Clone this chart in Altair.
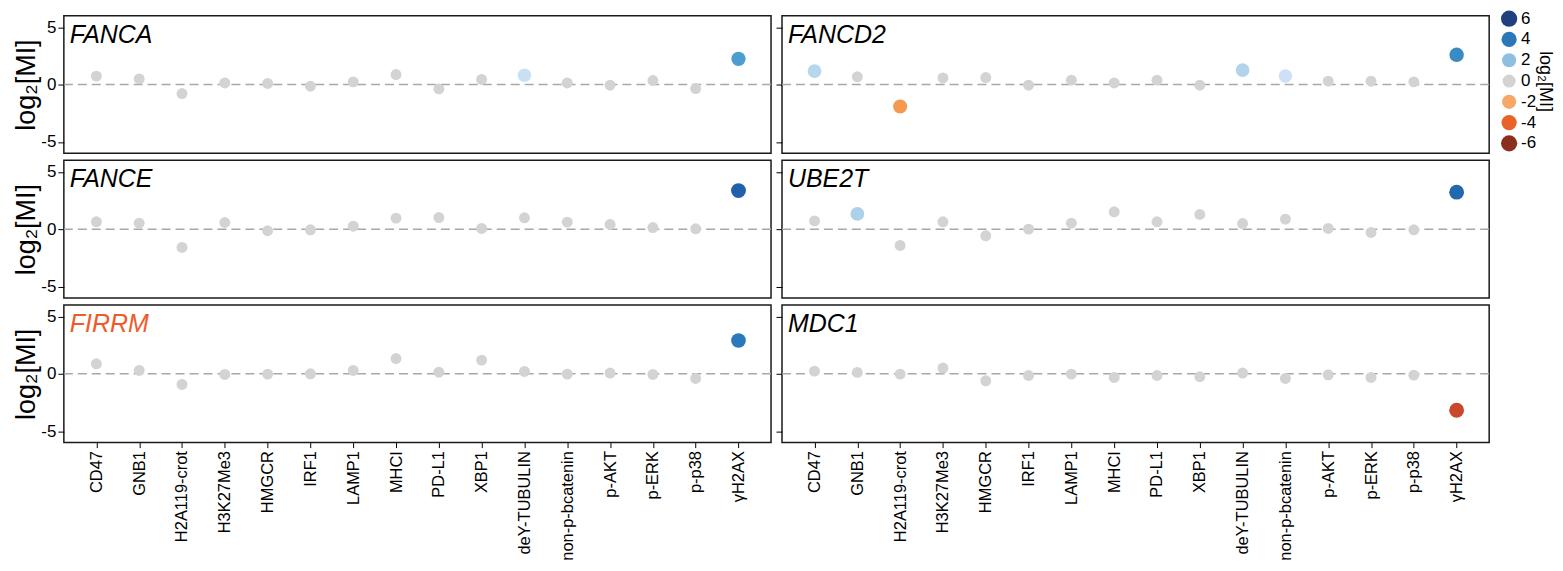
import altair as alt
import pandas as pd

markers = ["CD47", "GNB1", "H2A119-crot", "H3K27Me3", "HMGCR", "IRF1", "LAMP1",
           "MHCI", "PD-L1", "XBP1", "deY-TUBULIN", "non-p-bcatenin", "p-AKT",
           "p-ERK", "p-p38", "γH2AX"]

genes = ["FANCA", "FANCD2", "FANCE", "UBE2T", "FIRRM", "MDC1"]

fanca = [0.73, 0.49, -0.79, 0.14, 0.09, -0.15, 0.23, 0.87, -0.38, 0.44, 0.81, 0.14, -0.06, 0.35, -0.35, 2.24]
fancd2 = [1.16, 0.67, -1.92, 0.58, 0.61, -0.06, 0.38, 0.14, 0.38, -0.06, 1.25, 0.75, 0.29, 0.29, 0.23, 2.59]
fance = [0.64, 0.52, -1.59, 0.58, -0.14, -0.06, 0.26, 0.96, 1.01, 0.06, 0.99, 0.61, 0.41, 0.14, 0.03, 3.36]
ube2t = [0.72, 1.33, -1.42, 0.64, -0.58, 0.0, 0.52, 1.51, 0.64, 1.28, 0.49, 0.87, 0.06, -0.29, -0.06, 3.22]
firrm = [0.87, 0.29, -0.93, -0.06, -0.03, 0.0, 0.29, 1.33, 0.14, 1.19, 0.2, -0.03, 0.06, -0.06, -0.41, 2.9]
mdc1 = [0.23, 0.12, -0.03, 0.5, -0.61, -0.15, -0.03, -0.32, -0.15, -0.26, 0.06, -0.41, -0.09, -0.32, -0.12, -3.18]

sig_fanca = ["deY-TUBULIN", "γH2AX"]
sig_fancd2 = ["CD47", "H2A119-crot", "deY-TUBULIN", "non-p-bcatenin", "γH2AX"]
sig_fance = ["γH2AX"]
sig_ube2t = ["GNB1", "γH2AX"]
sig_firrm = ["γH2AX"]
sig_mdc1 = ["γH2AX"]

legend_vals = [6, 4, 2, 0, -2, -4, -6]
legend_labels = ["6", "4", "2", "0", "-2", "-4", "-6"]

values = [fanca, fancd2, fance, ube2t, firrm, mdc1]
sigs = [sig_fanca, sig_fancd2, sig_fance, sig_ube2t, sig_firrm, sig_mdc1]

FONT = "Liberation Sans"
W, H = 709, 138

color_scale = alt.Scale(
    domain=[-6, -3.2, -1.9, 0, 0.8, 1.3, 2.2, 2.9, 3.4, 6],
    range=["#8b2d1a", "#c8472a", "#f59a50", "#fde8d8", "#c8e0f2", "#afd3ea",
           "#4f9fd1", "#2a79ba", "#1f5fa9", "#1c3f7d"],
)
size_scale = alt.Scale(domain=[0, 6], range=[170, 265])


def panel(i):
    gene = genes[i]
    df = pd.DataFrame({
        "marker": markers,
        "value": values[i],
        "sig": [m in sigs[i] for m in markers],
    })
    df["absv"] = df["value"].abs()
    left = i % 2 == 0
    bottom = i >= 4
    if bottom:
        xaxis = alt.Axis(title=None, labelAngle=-90, labelFontSize=16.5,
                         labelColor="black", tickColor="black", tickSize=5,
                         labelPadding=3, domain=False, labelFont=FONT)
    else:
        xaxis = None
    if left:
        yaxis = alt.Axis(title="log₂[MI]", titleFontSize=27, titleFontWeight="normal",
                         titleColor="black", titlePadding=0,
                         values=[-5, -2.5, 0, 2.5, 5],
                         labelExpr="datum.value == 5 ? '5' : datum.value == 0 ? '0' : datum.value == -5 ? '-5' : ''",
                         labelFontSize=17, labelColor="black", tickColor="black",
                         tickSize=6, labelPadding=2, domain=False, grid=False,
                         titleFont=FONT, labelFont=FONT)
    else:
        yaxis = alt.Axis(title=None, labels=False, values=[-5, -2.5, 0, 2.5, 5],
                         tickColor="black", tickSize=6, domain=False, grid=False,
                         minExtent=0)
    x = alt.X("marker:N", sort=markers, scale=alt.Scale(padding=0.76), axis=xaxis)
    y = alt.Y("value:Q", scale=alt.Scale(domain=[-6, 6], nice=False), axis=yaxis)

    base = alt.Chart(df)
    zero = alt.Chart(pd.DataFrame({"z": [0]})).mark_rule(
        color="#a8a8a8", strokeDash=[9, 5], strokeWidth=1.5
    ).encode(y=alt.Y("z:Q"))
    gray = base.transform_filter("!datum.sig").mark_circle(
        color="#d3d3d3", opacity=1, size=120
    ).encode(x=x, y=y)
    colored = base.transform_filter("datum.sig").mark_circle(opacity=1).encode(
        x=x, y=y,
        color=alt.Color("value:Q", scale=color_scale, legend=None),
        size=alt.Size("absv:Q", scale=size_scale, legend=None),
    )
    title_color = "#f05a28" if gene == "FIRRM" else "black"
    title = alt.Chart(pd.DataFrame({"g": [gene]})).mark_text(
        align="left", baseline="alphabetic", fontSize=25, fontStyle="italic",
        font=FONT, color=title_color
    ).encode(x=alt.value(6), y=alt.value(27), text="g:N")
    return alt.layer(zero, gray, colored, title).properties(width=W, height=H)


rows = [alt.hconcat(panel(2 * r), panel(2 * r + 1), spacing=1) for r in range(3)]
grid = alt.vconcat(*rows, spacing=5)

leg = pd.DataFrame({"v": legend_vals, "lab": legend_labels})
leg["a"] = leg["v"].abs()
ly = alt.Y("v:Q", scale=alt.Scale(domain=[-6, 6], range=[128, 3]), axis=None)
leg_pts = alt.Chart(leg).mark_circle(opacity=1).encode(
    x=alt.value(11), y=ly,
    color=alt.Color("lab:N", scale=alt.Scale(
        domain=legend_labels,
        range=["#1f3f7d", "#2b78b8", "#8ebfe1", "#d3d3d3", "#f6a767", "#e8622a", "#8b2f1c"]),
        legend=None),
    size=alt.Size("a:Q", scale=alt.Scale(domain=[0, 2, 4, 6], range=[115, 245, 275, 305]),
                  legend=None),
)
leg_txt = alt.Chart(leg).mark_text(
    align="left", baseline="middle", fontSize=17, font=FONT, color="black"
).encode(x=alt.value(23), y=ly, text="lab:N")
leg_title = alt.Chart(pd.DataFrame({"t": ["log₂[MI]"]})).mark_text(
    angle=90, align="center", baseline="middle", fontSize=18, font=FONT, color="black"
).encode(x=alt.value(47), y=alt.value(66), text="t:N")
legend = alt.layer(leg_pts, leg_txt, leg_title).properties(
    width=44, height=H, view=alt.ViewBackground(stroke="transparent")
)

chart = alt.hconcat(grid, legend, spacing=6).properties(
    padding={"left": 4, "top": 0, "right": 0, "bottom": 0}
).configure(font=FONT).configure_view(stroke="#1a1a1a", strokeWidth=1.5)

chart.save("out.html", embed_options={"renderer": "svg", "actions": False})
